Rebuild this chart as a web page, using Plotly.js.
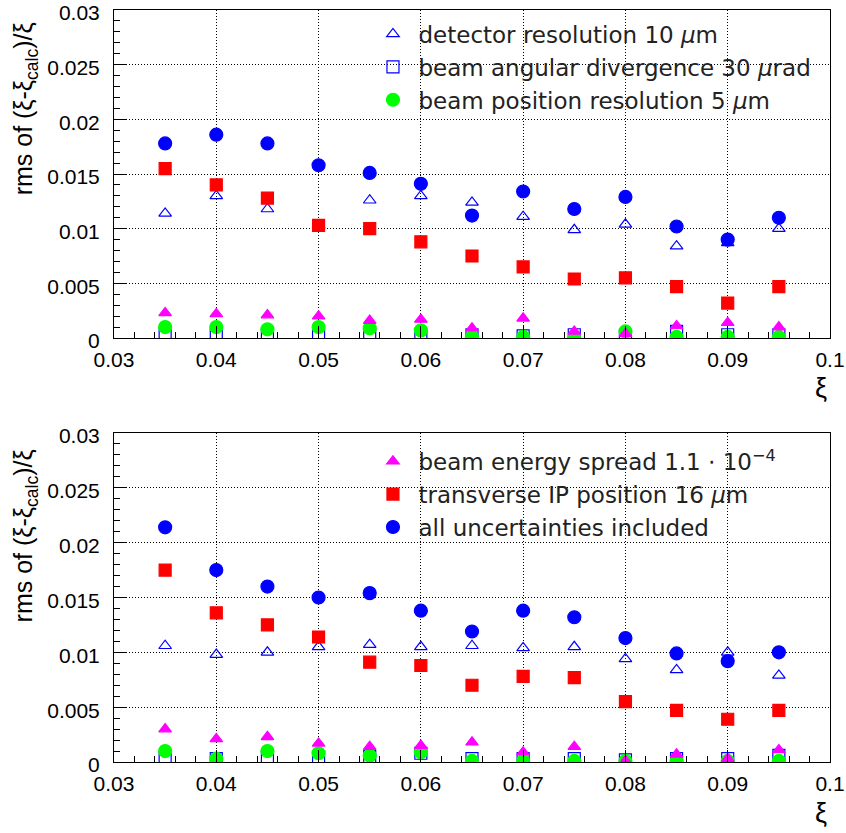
<!DOCTYPE html>
<html>
<head>
<meta charset="utf-8">
<script src="https://cdn.plot.ly/plotly-3.0.1.min.js"></script>
<style>html,body{margin:0;padding:0;background:#fff;}#chart{width:846px;height:833px;}</style>
</head>
<body>
<div id="chart"></div>
<script>
const xi = [0.035, 0.040, 0.045, 0.050, 0.055, 0.060, 0.065, 0.070, 0.075, 0.080, 0.085, 0.090, 0.095];

// top panel
const topDetector = [0.0114, 0.0130, 0.0118, 0.0103, 0.0126, 0.0130, 0.0124, 0.0111, 0.0099, 0.0104, 0.0084, 0.0087, 0.0100];
const topAngular  = [0.0003, 0.0003, 0.0003, 0.0003, 0.0003, 0.0002, 0.0003, 0.0002, 0.0003, 0.0002, 0.0006, 0.0003, 0.0003];
const topPosition = [0.0010, 0.0010, 0.0008, 0.0010, 0.0009, 0.0007, 0.0001, 0.0001, 0.0000, 0.0006, 0.0001, 0.0001, 0.0001];
const topEnergy   = [0.0023, 0.0022, 0.0021, 0.0020, 0.0016, 0.0017, 0.0009, 0.0018, 0.0006, 0.0004, 0.0011, 0.0014, 0.0010];
const topIP       = [0.0155, 0.0140, 0.0128, 0.0103, 0.0100, 0.0088, 0.0075, 0.0065, 0.0054, 0.0055, 0.0047, 0.0032, 0.0047];
const topAll      = [0.0178, 0.0186, 0.0178, 0.0158, 0.0151, 0.0141, 0.0112, 0.0134, 0.0118, 0.0129, 0.0102, 0.0090, 0.0110];

// bottom panel
const botDetector = [0.0106, 0.0098, 0.0100, 0.0105, 0.0107, 0.0105, 0.0106, 0.0104, 0.0105, 0.0094, 0.0084, 0.0100, 0.0079];
const botAngular  = [0.0003, 0.0003, 0.0005, 0.0005, 0.0005, 0.0008, 0.0003, 0.0003, 0.0003, 0.0002, 0.0003, 0.0003, 0.0006];
const botPosition = [0.0010, 0.0003, 0.0010, 0.0008, 0.0006, 0.0009, 0.0001, 0.0001, 0.0001, 0.0001, 0.0001, 0.0001, 0.0001];
const botEnergy   = [0.0030, 0.0021, 0.0023, 0.0017, 0.0014, 0.0015, 0.0018, 0.0009, 0.0014, 0.0001, 0.0007, 0.0003, 0.0011];
const botIP       = [0.0175, 0.0136, 0.0125, 0.0114, 0.0091, 0.0088, 0.0070, 0.0078, 0.0077, 0.0055, 0.0047, 0.0039, 0.0047];
const botAll      = [0.0214, 0.0175, 0.0160, 0.0150, 0.0154, 0.0138, 0.0119, 0.0138, 0.0132, 0.0113, 0.0099, 0.0092, 0.0100];

const seriesNames = [
  'detector resolution 10 <i>μ</i>m',
  'beam angular divergence 30 <i>μ</i>rad',
  'beam position resolution 5 <i>μ</i>m',
  'beam energy spread 1.1 ⋅ 10<sup>−4</sup>',
  'transverse IP position 16 <i>μ</i>m',
  'all uncertainties included'
];

const styles = [
  {symbol: 'triangle-up-open', color: '#0000ff', size: 11},
  {symbol: 'square-open', color: '#0000ff', size: 12},
  {symbol: 'circle', color: '#00ff00', size: 13},
  {symbol: 'triangle-up', color: '#ff00ff', size: 11},
  {symbol: 'square', color: '#ff0000', size: 12},
  {symbol: 'circle', color: '#0000ff', size: 13}
];

const topSets = [topDetector, topAngular, topPosition, topEnergy, topIP, topAll];
const botSets = [botDetector, botAngular, botPosition, botEnergy, botIP, botAll];

const traces = [];
topSets.forEach((ys, i) => {
  traces.push({
    x: xi, y: ys, xaxis: 'x', yaxis: 'y', type: 'scatter', mode: 'markers',
    name: seriesNames[i], legend: 'legend', showlegend: i < 3,
    marker: {symbol: styles[i].symbol, color: styles[i].color, size: styles[i].size, line: {width: 1.2, color: styles[i].color}},
    cliponaxis: true
  });
});
botSets.forEach((ys, i) => {
  traces.push({
    x: xi, y: ys, xaxis: 'x2', yaxis: 'y2', type: 'scatter', mode: 'markers',
    name: seriesNames[i], legend: 'legend2', showlegend: i >= 3,
    marker: {symbol: styles[i].symbol, color: styles[i].color, size: styles[i].size, line: {width: 1.2, color: styles[i].color}},
    cliponaxis: true
  });
});

const tickFont = {family: 'Liberation Sans, Arial, sans-serif', size: 21, color: '#000'};
function xAxis(anchor) {
  return {
    anchor: anchor, domain: [0, 1], range: [0.03, 0.1], dtick: 0.01, tick0: 0.03,
    ticks: 'inside', ticklen: 12, tickwidth: 1, tickcolor: '#000',
    minor: {dtick: 0.002, ticks: 'inside', ticklen: 6, tickwidth: 1, tickcolor: '#000', showgrid: false},
    showline: true, linecolor: '#000', linewidth: 1, mirror: true,
    showgrid: true, gridcolor: '#000', gridwidth: 1, griddash: '1px,2px',
    zeroline: false, tickfont: tickFont, ticklabelstandoff: 3, ticklabeloverflow: 'allow', fixedrange: true
  };
}
function yAxis(anchor, domain) {
  return {
    anchor: anchor, domain: domain, range: [0, 0.03], dtick: 0.005, tick0: 0,
    ticks: 'inside', ticklen: 12, tickwidth: 1, tickcolor: '#000',
    minor: {dtick: 0.001, ticks: 'inside', ticklen: 6, tickwidth: 1, tickcolor: '#000', showgrid: false},
    showline: true, linecolor: '#000', linewidth: 1, mirror: true,
    showgrid: true, gridcolor: '#000', gridwidth: 1, griddash: '1px,2px',
    zeroline: false, tickfont: tickFont, ticklabelstandoff: 9, ticklabelshift: 3, ticklabeloverflow: 'allow', fixedrange: true
  };
}

const legendFont = {family: 'DejaVu Sans, sans-serif', size: 23, color: '#222'};
const titleFont = {family: 'Liberation Sans, Arial, sans-serif', size: 25, color: '#000'};

const layout = {
  width: 846, height: 833,
  margin: {l: 114, r: 16, t: 10, b: 71},
  paper_bgcolor: '#fff', plot_bgcolor: '#fff',
  showlegend: true,
  xaxis: xAxis('y'),
  yaxis: yAxis('x', [0.5638, 1]),
  xaxis2: xAxis('y2'),
  yaxis2: yAxis('x2', [0, 0.4375]),
  legend: {x: 0.354, y: 0.9967, xanchor: 'left', yanchor: 'top', itemwidth: 41, bgcolor: 'rgba(0,0,0,0)', borderwidth: 0, font: legendFont, itemclick: false, itemdoubleclick: false},
  legend2: {x: 0.354, y: 0.4285, xanchor: 'left', yanchor: 'top', itemwidth: 41, bgcolor: 'rgba(0,0,0,0)', borderwidth: 0, font: legendFont, itemclick: false, itemdoubleclick: false},
  annotations: [
    {text: 'rms of (ξ-ξ<sub>calc</sub>)/ξ', xref: 'paper', yref: 'paper', x: -0.123, y: 0.8691, xanchor: 'center', yanchor: 'middle', textangle: -90, showarrow: false, font: titleFont},
    {text: 'rms of (ξ-ξ<sub>calc</sub>)/ξ', xref: 'paper', yref: 'paper', x: -0.123, y: 0.3012, xanchor: 'center', yanchor: 'middle', textangle: -90, showarrow: false, font: titleFont},
    {text: 'ξ', xref: 'paper', yref: 'paper', x: 0.988, y: 0.4967, xanchor: 'center', yanchor: 'middle', showarrow: false, font: {family: 'Liberation Sans, Arial, sans-serif', size: 27, color: '#000'}},
    {text: 'ξ', xref: 'paper', yref: 'paper', x: 0.988, y: -0.0672, xanchor: 'center', yanchor: 'middle', showarrow: false, font: {family: 'Liberation Sans, Arial, sans-serif', size: 27, color: '#000'}}
  ]
};

Plotly.newPlot('chart', traces, layout, {displayModeBar: false, staticPlot: true});
</script>
</body>
</html>
